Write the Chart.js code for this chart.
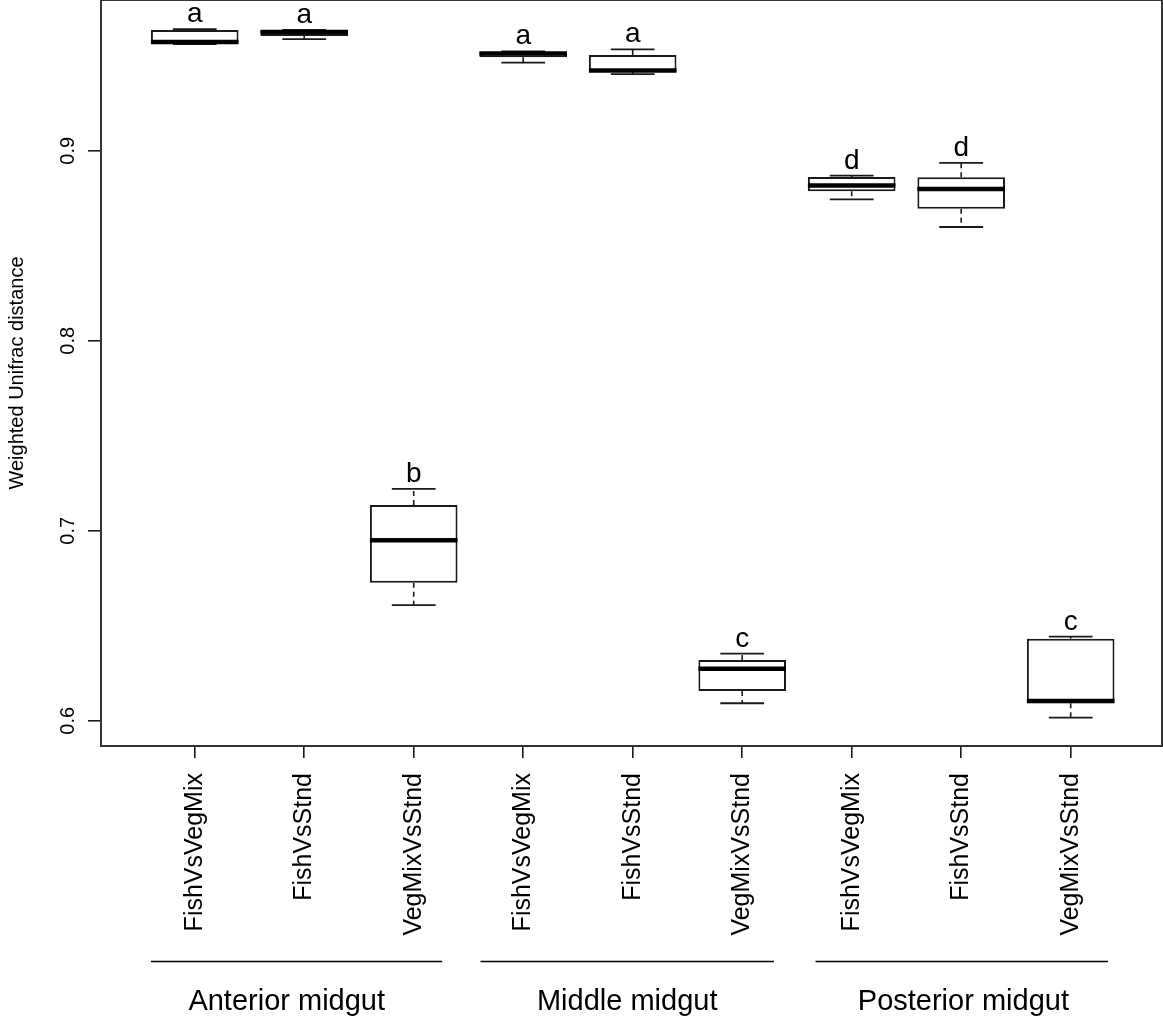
<!DOCTYPE html>
<html>
<head>
<meta charset="utf-8">
<title>Weighted Unifrac distance by gut region</title>
<script src="https://cdn.jsdelivr.net/npm/chart.js@4.4.1/dist/chart.umd.min.js"></script>
<style>
  html, body { margin: 0; padding: 0; background: #ffffff; }
  #wrap { position: relative; width: 1163px; height: 1018px; }
</style>
</head>
<body>
<div id="wrap"><canvas id="chart" width="1163" height="1018"></canvas></div>
<script>
// Comparison labels, one box per comparison
const categories = [
  'FishVsVegMix', 'FishVsStnd', 'VegMixVsStnd',
  'FishVsVegMix', 'FishVsStnd', 'VegMixVsStnd',
  'FishVsVegMix', 'FishVsStnd', 'VegMixVsStnd'
];

// Five-number summaries of the weighted Unifrac distances
const lowerWhisker = [0.9562, 0.9588, 0.6609, 0.9464, 0.9404, 0.6092, 0.8745, 0.8599, 0.6016];
const q1Values     = [0.9567, 0.9604, 0.6727, 0.9492, 0.9415, 0.6157, 0.8787, 0.8695, 0.6092];
const medianValues = [0.9573, 0.9625, 0.6950, 0.9512, 0.9423, 0.6273, 0.8818, 0.8799, 0.6104];
const q3Values     = [0.9636, 0.9633, 0.7136, 0.9520, 0.9504, 0.6320, 0.8862, 0.8861, 0.6431];
const upperWhisker = [0.9641, 0.9636, 0.7220, 0.9523, 0.9534, 0.6353, 0.8869, 0.8937, 0.6443];

// Significance letters above each box
const groupLetters = ['a', 'a', 'b', 'a', 'a', 'c', 'd', 'd', 'c'];

// Y axis tick values
const yTickValues = [0.6, 0.7, 0.8, 0.9];

// Gut regions: label, span of the underline (in box index units) and label centre
const regionNames  = ['Anterior midgut', 'Middle midgut', 'Posterior midgut'];
const regionStart  = [-0.40, 2.61, 5.67];
const regionEnd    = [2.26, 5.29, 8.34];
const regionCenter = [0.84, 3.95, 7.02];

const FONT = '"Liberation Sans", Arial, Helvetica, sans-serif';
const INK = '#1a1a1a';

// Whiskers, medians, letters, axis labels, frame and region annotations
const boxExtras = {
  id: 'boxExtras',
  afterDatasetsDraw(chart) {
    const ctx = chart.ctx;
    const xs = chart.scales.x;
    const ys = chart.scales.y;
    const area = chart.chartArea;
    const meta = chart.getDatasetMeta(0);

    ctx.save();
    ctx.strokeStyle = INK;
    ctx.lineCap = 'butt';

    categories.forEach((_, i) => {
      const bar = meta.data[i];
      const half = bar.width / 2;
      const cx = xs.getPixelForValue(i);
      const yLo = ys.getPixelForValue(lowerWhisker[i]);
      const yQ1 = ys.getPixelForValue(q1Values[i]);
      const yMed = ys.getPixelForValue(medianValues[i]);
      const yQ3 = ys.getPixelForValue(q3Values[i]);
      const yHi = ys.getPixelForValue(upperWhisker[i]);

      // dashed whisker stems
      ctx.lineWidth = 1.6;
      ctx.setLineDash([5, 4]);
      ctx.beginPath();
      ctx.moveTo(cx, yQ3); ctx.lineTo(cx, yHi);
      ctx.moveTo(cx, yQ1); ctx.lineTo(cx, yLo);
      ctx.stroke();
      ctx.setLineDash([]);

      // whisker caps, half the box width
      ctx.lineWidth = 1.8;
      ctx.beginPath();
      ctx.moveTo(cx - half / 2, yHi); ctx.lineTo(cx + half / 2, yHi);
      ctx.moveTo(cx - half / 2, yLo); ctx.lineTo(cx + half / 2, yLo);
      ctx.stroke();

      // median
      ctx.lineWidth = 4.5;
      ctx.strokeStyle = '#000';
      ctx.beginPath();
      ctx.moveTo(cx - half, yMed); ctx.lineTo(cx + half, yMed);
      ctx.stroke();
      ctx.strokeStyle = INK;

      // letter
      ctx.fillStyle = '#000';
      ctx.font = '28px ' + FONT;
      ctx.textAlign = 'center';
      ctx.textBaseline = 'alphabetic';
      ctx.fillText(groupLetters[i], cx, yHi - 7);
    });

    // plot frame
    ctx.lineWidth = 2;
    ctx.strokeStyle = '#333';
    ctx.strokeRect(area.left, area.top, area.right - area.left, area.bottom - area.top);

    // y tick labels, parallel to the axis
    ctx.fillStyle = '#000';
    ctx.font = '20px ' + FONT;
    ctx.textAlign = 'center';
    ctx.textBaseline = 'middle';
    yTickValues.forEach(v => {
      const y = ys.getPixelForValue(v);
      ctx.save();
      ctx.translate(68, y);
      ctx.rotate(-Math.PI / 2);
      ctx.fillText(v.toFixed(1), 0, 0);
      ctx.restore();
    });

    // x tick labels, perpendicular to the axis
    ctx.font = '25px ' + FONT;
    ctx.textAlign = 'right';
    ctx.textBaseline = 'middle';
    categories.forEach((label, i) => {
      const x = xs.getPixelForValue(i);
      ctx.save();
      ctx.translate(x, area.bottom + 27);
      ctx.rotate(-Math.PI / 2);
      ctx.fillText(label, 0, 0);
      ctx.restore();
    });

    // region underlines and names
    ctx.lineWidth = 1.5;
    ctx.strokeStyle = '#000';
    ctx.font = '29px ' + FONT;
    ctx.textAlign = 'center';
    ctx.textBaseline = 'alphabetic';
    regionNames.forEach((name, k) => {
      const x0 = xs.getPixelForValue(regionStart[k]);
      const x1 = xs.getPixelForValue(regionEnd[k]);
      ctx.beginPath();
      ctx.moveTo(x0, 961.5); ctx.lineTo(x1, 961.5);
      ctx.stroke();
      ctx.fillText(name, xs.getPixelForValue(regionCenter[k]), 1010);
    });

    ctx.restore();
  }
};

new Chart(document.getElementById('chart'), {
  type: 'bar',
  data: {
    datasets: [{
      data: categories.map((_, i) => ({ x: i, y: [q1Values[i], q3Values[i]] })),
      backgroundColor: '#ffffff',
      borderColor: INK,
      borderWidth: 2,
      borderSkipped: false,
      barPercentage: 0.8,
      categoryPercentage: 1.0
    }]
  },
  options: {
    responsive: false,
    animation: false,
    devicePixelRatio: 1,
    layout: { padding: { top: 0, right: 1, bottom: 0, left: 0 } },
    plugins: { legend: { display: false }, tooltip: { enabled: false } },
    scales: {
      x: {
        type: 'linear',
        offset: false,
        min: -0.856,
        max: 8.834,
        afterBuildTicks: s => { s.ticks = categories.map((_, i) => ({ value: i })); },
        afterFit: s => { s.height = 272; },
        ticks: { display: false },
        grid: { offset: false, drawOnChartArea: false, drawTicks: true, tickLength: 12, color: INK, lineWidth: 1.6 },
        border: { display: false }
      },
      y: {
        min: 0.5867,
        max: 0.9794,
        afterBuildTicks: s => { s.ticks = yTickValues.map(v => ({ value: v })); },
        afterFit: s => { s.width = 101; },
        ticks: { display: false },
        grid: { drawOnChartArea: false, drawTicks: true, tickLength: 13, color: INK, lineWidth: 1.6 },
        border: { display: false },
        title: {
          display: true,
          text: 'Weighted Unifrac distance',
          color: '#000',
          font: { family: FONT, size: 20 },
          padding: { top: 5, bottom: 0 }
        }
      }
    }
  },
  plugins: [boxExtras]
});
</script>
</body>
</html>
